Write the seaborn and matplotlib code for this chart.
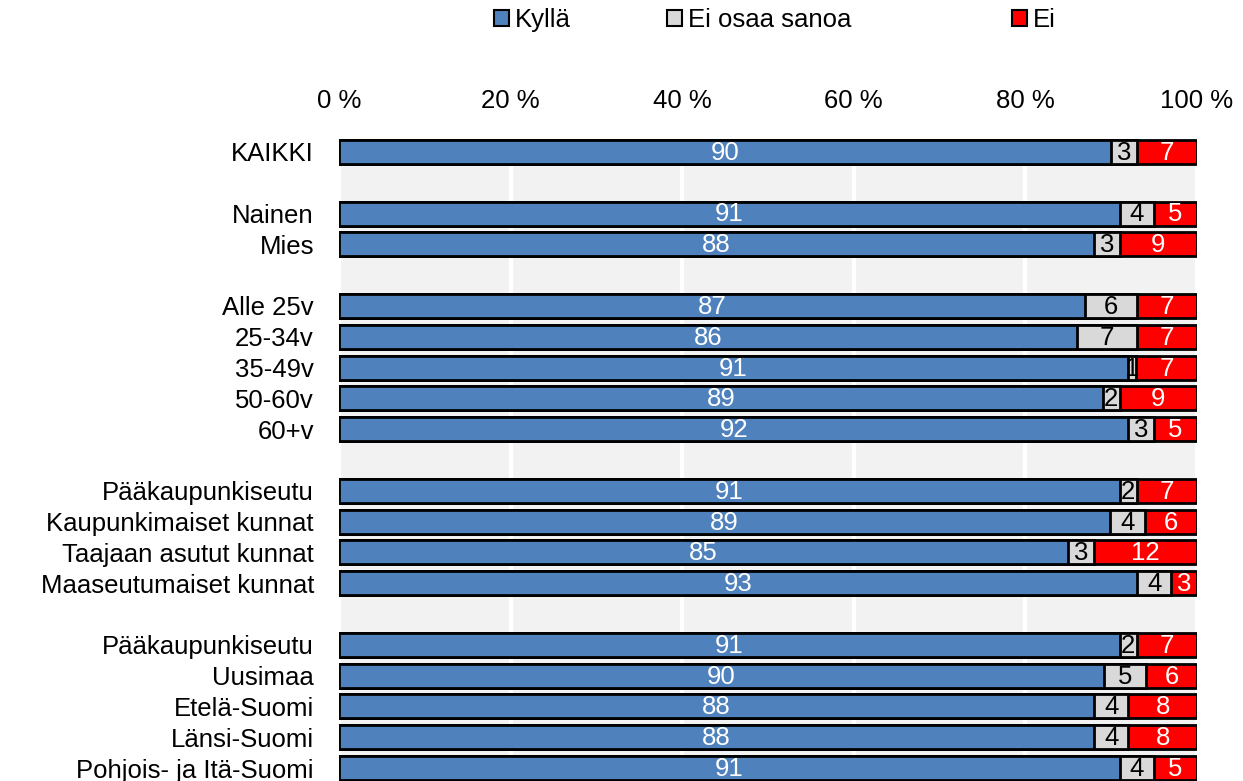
import seaborn as sns
import matplotlib.pyplot as plt
import pandas as pd
import numpy as np
from matplotlib.patches import Patch

# rows (empty string = spacer row between groups)
labels = ["KAIKKI", "",
          "Nainen", "Mies", "",
          "Alle 25v", "25-34v", "35-49v", "50-60v", "60+v", "",
          "Pääkaupunkiseutu", "Kaupunkimaiset kunnat", "Taajaan asutut kunnat",
          "Maaseutumaiset kunnat", "",
          "Pääkaupunkiseutu", "Uusimaa", "Etelä-Suomi", "Länsi-Suomi",
          "Pohjois- ja Itä-Suomi"]
kylla = [90, None, 91, 88, None, 87, 86, 91, 89, 92, None,
         91, 89, 85, 93, None, 91, 90, 88, 88, 91]
eos = [3, None, 4, 3, None, 6, 7, 1, 2, 3, None,
       2, 4, 3, 4, None, 2, 5, 4, 4, 4]
ei = [7, None, 5, 9, None, 7, 7, 7, 9, 5, None,
      7, 6, 12, 3, None, 7, 6, 8, 8, 5]
series = ["Kyllä", "Ei osaa sanoa", "Ei"]
colors = ["#4f81bd", "#d9d9d9", "#ff0000"]
text_colors = ["white", "black", "white"]

df = pd.DataFrame({"label": labels, "k": kylla, "e": eos, "n": ei})
df["row"] = [f"r{i}" for i in range(len(df))]
order = list(df["row"])
data = df.dropna().copy()
# 100 % stacked: normalise each row
tot = data["k"] + data["e"] + data["n"]
data["c1"] = data["k"] / tot * 100
data["c2"] = (data["k"] + data["e"]) / tot * 100
data["c3"] = 100.0

plt.rcParams["font.family"] = ["Liberation Sans", "DejaVu Sans"]
fs = 18.5

fig = plt.figure(figsize=(12.43, 7.81), dpi=100)
ax = fig.add_axes([339 / 1243, 0, (1197 - 339) / 1243, 1 - 139 / 781])
ax.set_facecolor("#f2f2f2")

# draw cumulative bars back to front so they look stacked
for col, c in zip(["c3", "c2", "c1"], colors[::-1]):
    sns.barplot(data=data, x=col, y="row", order=order, orient="h",
                color=c, saturation=1, edgecolor="black", linewidth=2,
                width=0.78, errorbar=None, ax=ax)

pos = {r: i for i, r in enumerate(order)}
for _, r in data.iterrows():
    y = pos[r["row"]]
    t = r["k"] + r["e"] + r["n"]
    starts = [0, r["c1"], r["c2"]]
    widths = [r["k"] / t * 100, r["e"] / t * 100, r["n"] / t * 100]
    vals = [r["k"], r["e"], r["n"]]
    for s, w, v, tc in zip(starts, widths, vals, text_colors):
        ax.text(s + w / 2, y + 0.03, f"{int(v)}", ha="center", va="center",
                color=tc, fontsize=fs)

ax.set_xlim(0, 100)
ax.set_ylim(20.42, -0.42)
ax.set_xticks([0, 20, 40, 60, 80, 100])
ax.set_xticklabels(["0 %", "20 %", "40 %", "60 %", "80 %", "100 %"])
ax.xaxis.tick_top()
ax.set_yticks(range(len(labels)))
ax.set_yticklabels(labels)
ax.tick_params(axis="x", length=0, pad=19, labelsize=fs)
ax.tick_params(axis="y", length=0, pad=18, labelsize=fs)
ax.set_xlabel("")
ax.set_ylabel("")
ax.grid(axis="x", color="white", linewidth=3)
ax.grid(axis="y", visible=False)
ax.set_axisbelow(True)
for sp in ax.spines.values():
    sp.set_visible(False)

# legend entries placed individually like the original
leg_x = [494, 667, 1012]
for name, c, x in zip(series, colors, leg_x):
    h = Patch(facecolor=c, edgecolor="black", linewidth=1.5)
    lg = fig.legend(handles=[h], labels=[name], loc="center left",
                    bbox_to_anchor=(x / 1243, 1 - 20 / 781), frameon=False,
                    borderpad=0, borderaxespad=0, handlelength=0.6,
                    handleheight=0.6, handletextpad=0.2, fontsize=fs)

fig.savefig("out.png", dpi=100)
